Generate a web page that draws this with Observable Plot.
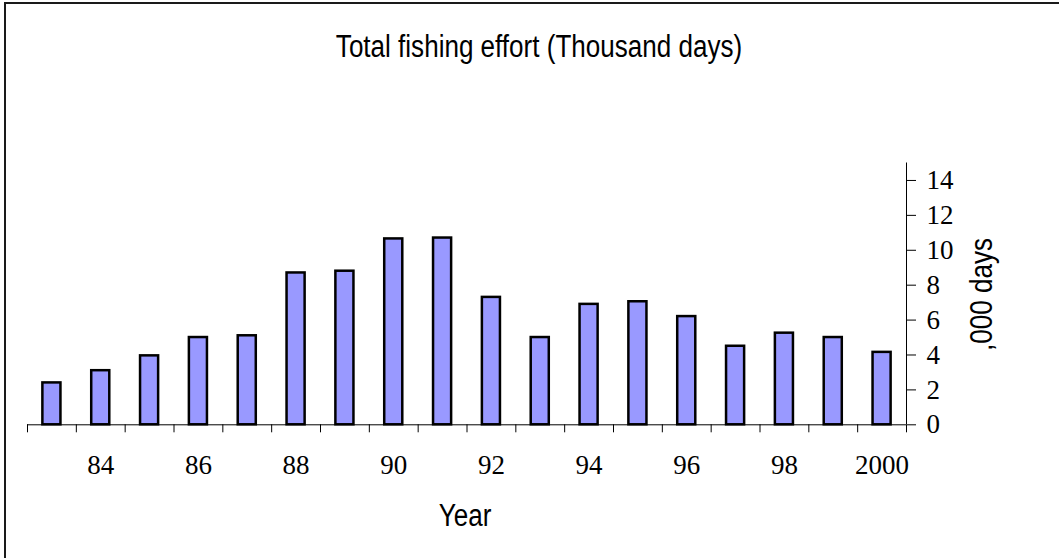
<!DOCTYPE html>
<html><head><meta charset="utf-8">
<script src="https://cdn.jsdelivr.net/npm/d3@7"></script>
<script src="https://cdn.jsdelivr.net/npm/@observablehq/plot@0.6"></script>
<style>
html,body{margin:0;padding:0;background:#fff;}
#wrap{position:relative;width:1059px;height:558px;overflow:hidden;background:#fff;}
#frame{position:absolute;left:4px;top:2px;width:1200px;height:700px;border-left:2px solid #1a1a1a;border-top:2px solid #1a1a1a;}
.lbl{position:absolute;font-family:"Liberation Sans",Arial,sans-serif;font-size:31px;line-height:31px;color:#000;white-space:nowrap;text-align:center;}
#title{left:0;width:1078px;top:30.7px;transform:scaleX(0.84);}
#xlabel{left:365px;width:200px;top:499.7px;transform:scaleX(0.84);}
#ylabel{left:881px;width:200px;top:278.5px;transform:rotate(-90deg) scaleX(0.84);}
#chart{position:absolute;left:0;top:100px;width:1059px;}
</style>
</head>
<body>
<div id="wrap">
  <div id="frame"></div>
  <div id="title" class="lbl">Total fishing effort (Thousand days)</div>
  <div id="chart"></div>
  <div id="xlabel" class="lbl">Year</div>
  <div id="ylabel" class="lbl">,000 days</div>
</div>
<script>
const years = [1983,1984,1985,1986,1987,1988,1989,1990,1991,1992,1993,1994,1995,1996,1997,1998,1999,2000];
const effort = [2.4,3.1,3.95,5.0,5.1,8.7,8.8,10.65,10.7,7.3,5.0,6.9,7.05,6.2,4.5,5.25,5.0,4.15];
const xTickYears = [1984,1986,1988,1990,1992,1994,1996,1998,2000];
const xTickLabels = ["84","86","88","90","92","94","96","98","2000"];
const yTicks = [0,2,4,6,8,10,12,14];
const yMax = 15;

const data = years.map((year, i) => ({year, value: effort[i]}));
const labelOf = new Map(xTickYears.map((y, i) => [y, xTickLabels[i]]));

const W = 1059, mL = 27, mR = 153;
const halfStep = (W - mL - mR) / years.length / 2;

const chart = Plot.plot({
  width: W,
  height: 380,
  marginLeft: mL,
  marginRight: mR,
  marginTop: 62.5,
  marginBottom: 55.7,
  x: {type: "band", domain: years, paddingInner: 0.63, paddingOuter: 0.315, align: 0.5, round: false},
  y: {domain: [0, yMax]},
  style: {
    fontFamily: "'Liberation Serif','Times New Roman',serif",
    fontSize: "27px",
    color: "#000",
    background: "transparent",
    overflow: "visible"
  },
  marks: [
    Plot.barY(data, {x: "year", y: "value", fill: "#9999ff", stroke: "#000", strokeWidth: 2.5}),
    Plot.ruleY([0], {stroke: "#000", strokeWidth: 1}),
    Plot.ruleX([years[years.length - 1]], {x: d => d, y1: 0, y2: yMax, dx: halfStep, stroke: "#000", strokeWidth: 1}),
    Plot.axisX({ticks: years, tickSize: 8, tickFormat: () => "", dx: -halfStep, label: null, stroke: "#000"}),
    Plot.axisX({ticks: [years[years.length - 1]], tickSize: 8, tickFormat: () => "", dx: halfStep, label: null, stroke: "#000"}),
    Plot.axisX({ticks: xTickYears, tickSize: 0, tickPadding: 30, tickFormat: d => labelOf.get(d), label: null, fontSize: 27}),
    Plot.axisY({anchor: "right", ticks: yTicks, tickSize: 9, tickPadding: 11, tickFormat: d => String(d), label: null, stroke: "#000", fontSize: 27})
  ]
});
document.getElementById("chart").appendChild(chart);
</script>
</body></html>
